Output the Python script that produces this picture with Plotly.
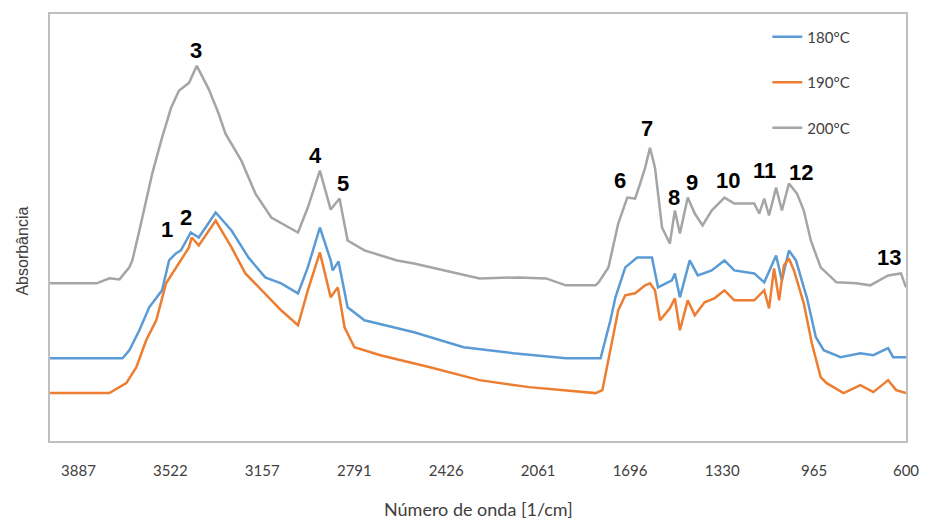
import plotly.graph_objects as go

# ---- data (wavenumber in 1/cm, absorbance in arbitrary units) ----
wn_200 = [4000, 3815, 3764, 3724, 3685, 3673, 3645, 3634, 3594, 3555, 3519, 3488, 3448, 3417,
          3370, 3330, 3303, 3240, 3184, 3121, 3015, 2976, 2928, 2885, 2850, 2818, 2751, 2621,
          2554, 2294, 2137, 2030, 1951, 1833, 1821, 1782, 1743, 1707, 1676, 1656, 1636, 1617,
          1597, 1569, 1538, 1518, 1498, 1467, 1439, 1408, 1372, 1321, 1282, 1203, 1183, 1163,
          1144, 1116, 1093, 1065, 1033, 1006, 978, 939, 876, 797, 742, 671, 620, 600]
abs_200 = [1.58, 1.58, 1.63, 1.62, 1.74, 1.81, 2.11, 2.24, 2.68, 3.04, 3.34, 3.51, 3.59, 3.76,
           3.53, 3.28, 3.08, 2.81, 2.48, 2.24, 2.09, 2.34, 2.71, 2.32, 2.43, 2.01, 1.91, 1.81,
           1.78, 1.63, 1.64, 1.63, 1.56, 1.56, 1.59, 1.74, 2.18, 2.44, 2.43, 2.58, 2.74, 2.94,
           2.74, 2.14, 1.98, 2.31, 2.08, 2.44, 2.28, 2.16, 2.31, 2.44, 2.38, 2.38, 2.28, 2.43,
           2.26, 2.54, 2.31, 2.58, 2.48, 2.31, 2.01, 1.74, 1.59, 1.58, 1.56, 1.66, 1.68, 1.54]

wn_180 = [4000, 3712, 3685, 3645, 3606, 3555, 3527, 3500, 3480, 3441, 3409, 3342, 3279, 3212,
          3145, 3082, 3015, 2976, 2928, 2885, 2877, 2854, 2818, 2751, 2554, 2357, 2160, 1951,
          1833, 1813, 1774, 1754, 1715, 1668, 1609, 1585, 1530, 1518, 1498, 1459, 1427, 1372,
          1321, 1282, 1203, 1163, 1116, 1093, 1065, 1037, 1006, 994, 958, 927, 860, 781, 730,
          671, 651, 600]
abs_180 = [0.83, 0.83, 0.91, 1.11, 1.34, 1.51, 1.81, 1.88, 1.91, 2.09, 2.04, 2.29, 2.11, 1.84,
           1.64, 1.58, 1.48, 1.74, 2.14, 1.81, 1.71, 1.80, 1.34, 1.21, 1.09, 0.94, 0.88, 0.83,
           0.83, 0.83, 1.21, 1.44, 1.74, 1.84, 1.84, 1.54, 1.61, 1.68, 1.44, 1.81, 1.66, 1.71,
           1.81, 1.71, 1.68, 1.59, 1.86, 1.61, 1.91, 1.81, 1.54, 1.44, 1.04, 0.91, 0.84, 0.88,
           0.86, 0.93, 0.84, 0.84]

wn_190 = [4000, 3764, 3697, 3657, 3618, 3578, 3539, 3500, 3488, 3448, 3437, 3409, 3342, 3279,
          3224, 3082, 3015, 2976, 2928, 2885, 2857, 2830, 2791, 2688, 2491, 2294, 2097, 1900,
          1833, 1806, 1774, 1743, 1715, 1676, 1636, 1617, 1597, 1577, 1538, 1518, 1498, 1467,
          1439, 1400, 1361, 1321, 1282, 1203, 1163, 1144, 1124, 1104, 1085, 1065, 1045, 1006,
          974, 939, 915, 848, 781, 730, 671, 639, 600]
abs_190 = [0.48, 0.48, 0.58, 0.74, 1.01, 1.21, 1.58, 1.74, 1.78, 1.94, 2.04, 1.96, 2.21, 1.94,
           1.68, 1.31, 1.16, 1.51, 1.89, 1.44, 1.54, 1.14, 0.94, 0.86, 0.74, 0.61, 0.54, 0.49,
           0.48, 0.51, 0.91, 1.31, 1.46, 1.48, 1.56, 1.58, 1.51, 1.21, 1.33, 1.43, 1.11, 1.41,
           1.26, 1.39, 1.43, 1.51, 1.41, 1.41, 1.51, 1.33, 1.73, 1.41, 1.76, 1.83, 1.71, 1.38,
           0.98, 0.64, 0.58, 0.48, 0.56, 0.49, 0.61, 0.51, 0.48]

tick_vals = [3887, 3522, 3157, 2791, 2426, 2061, 1696, 1330, 965, 600]
tick_text = ["3887", "3522", "3157", "2791", "2426", "2061", "1696", "1330", "965", "600"]

peak_labels = ["1", "2", "3", "4", "5", "6", "7", "8", "9", "10", "11", "12", "13"]
peak_wn = [3535, 3460, 3421, 2944, 2838, 1735, 1628, 1522, 1451, 1309, 1163, 1018, 667]
peak_abs = [2.12, 2.24, 3.91, 2.86, 2.58, 2.61, 3.13, 2.44, 2.59, 2.61, 2.71, 2.69, 1.84]

series = [("180°C", wn_180, abs_180, "#5B9BD5"),
          ("190°C", wn_190, abs_190, "#ED7D31"),
          ("200°C", wn_200, abs_200, "#A5A5A5")]

fig = go.Figure()
for i, (name, xs, ys, col) in enumerate(series):
    fig.add_trace(go.Scatter(x=xs, y=ys, mode="lines", name=name,
                             legendgroup=name,
                             line=dict(color=col, width=2.5)))

for t, xw, ya in zip(peak_labels, peak_wn, peak_abs):
    fig.add_annotation(x=xw, y=ya, text="<b>" + t + "</b>", showarrow=False,
                       font=dict(family="Liberation Sans, Arial", size=22, color="black"),
                       xanchor="center", yanchor="middle")

axis_font = dict(family="Lato, sans-serif", size=15, color="#404040")

fig.update_layout(
    width=931, height=525,
    margin=dict(l=50, r=18, t=13, b=84),
    plot_bgcolor="white", paper_bgcolor="white",
    showlegend=True,
    legend=dict(x=0.838, y=0.985, xanchor="left", yanchor="top",
                font=axis_font, bgcolor="rgba(0,0,0,0)",
                traceorder="grouped", tracegroupgap=23),
    xaxis=dict(range=[4000, 600], tickvals=tick_vals, ticktext=tick_text,
               showgrid=False, zeroline=False, ticks="",
               showline=True, mirror=True, linecolor="#BFBFBF", linewidth=1.5,
               tickfont=axis_font, ticklabelstandoff=15),
    yaxis=dict(range=[0, 4.28], showticklabels=False, showgrid=False, zeroline=False,
               ticks="", showline=True, mirror=True, linecolor="#BFBFBF", linewidth=1.5),
)

fig.add_annotation(text="Número de onda [1/cm]", xref="paper", yref="paper",
                   x=0.5, y=-0.16, showarrow=False, xanchor="center", yanchor="middle",
                   font=dict(family="Lato, sans-serif", size=18, color="#404040"))
fig.add_annotation(text="Absorbância", xref="paper", yref="paper",
                   x=-0.032, y=0.445, showarrow=False, textangle=-90,
                   xanchor="center", yanchor="middle",
                   font=dict(family="Liberation Sans, Arial", size=16, color="#404040"))

fig.write_html("out.html")
